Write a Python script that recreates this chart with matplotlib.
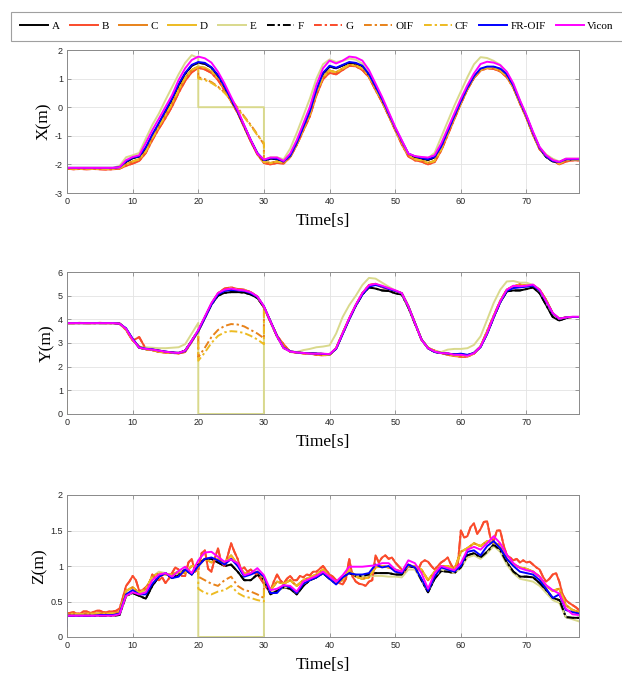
import numpy as np
import matplotlib
matplotlib.use('Agg')
import matplotlib.pyplot as plt

# sample times [s], one value per second
T = list(range(79))
# finer grid for the noisy Z trace, every half second
T_half = [i / 2 for i in range(157)]

# ---------------- X(m) ----------------
vic_x = [-2.12, -2.12, -2.12, -2.12, -2.12, -2.12, -2.12, -2.12, -2.1, -1.85,
         -1.74, -1.68, -1.25, -0.8, -0.4, 0.01, 0.42, 0.95, 1.36, 1.65,
         1.77, 1.71, 1.56, 1.24, 0.83, 0.36, -0.1, -0.63, -1.15, -1.62,
         -1.83, -1.76, -1.76, -1.88, -1.62, -1.15, -0.57, 0.01, 0.78, 1.36,
         1.63, 1.53, 1.63, 1.77, 1.74, 1.63, 1.3, 0.83, 0.36, -0.16,
         -0.69, -1.15, -1.62, -1.71, -1.74, -1.76, -1.68, -1.27, -0.75, -0.22,
         0.3, 0.77, 1.18, 1.51, 1.59, 1.56, 1.47, 1.24, 0.83, 0.25,
         -0.28, -0.86, -1.39, -1.68, -1.85, -1.91, -1.8, -1.8, -1.8]
fro_x = [-2.12, -2.12, -2.12, -2.12, -2.12, -2.12, -2.12, -2.12, -2.1, -1.9,
         -1.76, -1.72, -1.4, -0.95, -0.55, -0.12, 0.3, 0.8, 1.2, 1.48,
         1.58, 1.55, 1.4, 1.12, 0.72, 0.28, -0.15, -0.65, -1.15, -1.6,
         -1.85, -1.78, -1.8, -1.9, -1.7, -1.25, -0.7, -0.15, 0.6, 1.2,
         1.45, 1.38, 1.48, 1.58, 1.55, 1.45, 1.15, 0.72, 0.28, -0.22,
         -0.72, -1.18, -1.62, -1.72, -1.78, -1.82, -1.74, -1.38, -0.85, -0.32,
         0.2, 0.68, 1.08, 1.35, 1.42, 1.42, 1.35, 1.15, 0.75, 0.2,
         -0.32, -0.9, -1.42, -1.72, -1.88, -1.92, -1.82, -1.82, -1.82]
blk_x = [-2.13, -2.13, -2.13, -2.13, -2.13, -2.13, -2.13, -2.13, -2.11, -1.92,
         -1.78, -1.73, -1.45, -1.0, -0.58, -0.15, 0.27, 0.76, 1.17, 1.45,
         1.55, 1.52, 1.38, 1.1, 0.7, 0.26, -0.17, -0.67, -1.17, -1.62,
         -1.87, -1.8, -1.82, -1.92, -1.72, -1.28, -0.73, -0.18, 0.57, 1.17,
         1.42, 1.36, 1.46, 1.55, 1.52, 1.42, 1.12, 0.7, 0.25, -0.25,
         -0.75, -1.2, -1.64, -1.74, -1.8, -1.84, -1.76, -1.4, -0.88, -0.35,
         0.17, 0.65, 1.05, 1.32, 1.4, 1.4, 1.33, 1.13, 0.72, 0.18,
         -0.34, -0.92, -1.44, -1.74, -1.9, -1.94, -1.84, -1.84, -1.84]
pale_x = [-2.12, -2.12, -2.12, -2.12, -2.12, -2.12, -2.12, -2.12, -2.05, -1.75,
          -1.68, -1.6, -1.1, -0.62, -0.22, 0.25, 0.7, 1.15, 1.55, 1.82,
          1.72, 1.6, 1.45, 1.15, 0.75, 0.3, -0.15, -0.65, -1.15, -1.6,
          -1.85, -1.75, -1.75, -1.82, -1.45, -0.9, -0.3, 0.3, 1.0, 1.5,
          1.67, 1.58, 1.62, 1.7, 1.66, 1.52, 1.2, 0.75, 0.3, -0.2,
          -0.75, -1.25, -1.65, -1.72, -1.75, -1.78, -1.6, -1.05, -0.5, 0.05,
          0.55, 1.05, 1.5, 1.75, 1.72, 1.62, 1.48, 1.22, 0.8, 0.22,
          -0.3, -0.9, -1.4, -1.65, -1.8, -1.9, -1.8, -1.8, -1.8]
red_x = [-2.15, -2.17, -2.16, -2.17, -2.16, -2.17, -2.18, -2.17, -2.15, -2.05,
         -1.97, -1.88, -1.6, -1.15, -0.75, -0.38, 0.02, 0.5, 0.92, 1.22,
         1.38, 1.32, 1.2, 0.95, 0.6, 0.2, -0.2, -0.7, -1.2, -1.65,
         -1.95, -2.0, -1.95, -1.97, -1.75, -1.32, -0.82, -0.32, 0.42, 0.98,
         1.2, 1.15, 1.3, 1.45, 1.43, 1.3, 1.05, 0.6, 0.18, -0.3,
         -0.8, -1.3, -1.72, -1.86, -1.9, -2.0, -1.92, -1.52, -0.97, -0.42,
         0.12, 0.62, 1.02, 1.28, 1.36, 1.34, 1.25, 1.05, 0.68, 0.13,
         -0.38, -0.97, -1.47, -1.72, -1.86, -2.0, -1.9, -1.86, -1.86]
org_x = [-2.14, -2.15, -2.15, -2.15, -2.15, -2.15, -2.16, -2.15, -2.13, -2.0,
         -1.9, -1.82, -1.55, -1.08, -0.68, -0.28, 0.12, 0.6, 1.02, 1.3,
         1.42, 1.38, 1.25, 1.0, 0.65, 0.22, -0.18, -0.68, -1.18, -1.63,
         -1.92, -1.95, -1.9, -1.95, -1.72, -1.3, -0.78, -0.25, 0.5, 1.05,
         1.28, 1.22, 1.35, 1.48, 1.46, 1.35, 1.08, 0.64, 0.2, -0.28,
         -0.78, -1.25, -1.68, -1.82, -1.86, -1.95, -1.88, -1.48, -0.92, -0.38,
         0.15, 0.64, 1.05, 1.3, 1.38, 1.37, 1.28, 1.08, 0.7, 0.15,
         -0.36, -0.95, -1.45, -1.7, -1.84, -1.97, -1.86, -1.84, -1.84]
oif_gap_x = [1.05, 0.98, 0.88, 0.72, 0.52, 0.28, -0.02, -0.32, -0.62, -0.95, -1.3]
cf_gap_x = [1.0, 0.95, 0.85, 0.7, 0.5, 0.25, -0.05, -0.35, -0.65, -0.98, -1.25]
fro_start_x = -1.1

# ---------------- Y(m) ----------------
vic_y = [3.84, 3.84, 3.84, 3.84, 3.84, 3.84, 3.84, 3.84, 3.82, 3.6,
         3.14, 2.8, 2.75, 2.72, 2.68, 2.63, 2.6, 2.58, 2.68, 3.1,
         3.56, 4.12, 4.69, 5.11, 5.25, 5.3, 5.25, 5.22, 5.14, 4.97,
         4.55, 3.91, 3.28, 2.78, 2.64, 2.6, 2.58, 2.55, 2.55, 2.55,
         2.53, 2.78, 3.42, 4.05, 4.62, 5.11, 5.44, 5.5, 5.42, 5.32,
         5.23, 5.11, 4.55, 3.84, 3.14, 2.78, 2.64, 2.57, 2.57, 2.5,
         2.5, 2.46, 2.57, 2.85, 3.42, 4.12, 4.76, 5.25, 5.42, 5.4,
         5.42, 5.47, 5.25, 4.76, 4.27, 4.03, 4.08, 4.11, 4.11]
fro_y = [3.84, 3.84, 3.84, 3.84, 3.84, 3.84, 3.84, 3.84, 3.82, 3.62,
         3.18, 2.82, 2.76, 2.73, 2.68, 2.64, 2.6, 2.58, 2.66, 3.08,
         3.5, 4.05, 4.62, 5.05, 5.2, 5.24, 5.22, 5.2, 5.1, 4.95,
         4.55, 3.92, 3.3, 2.8, 2.65, 2.6, 2.58, 2.56, 2.55, 2.54,
         2.52, 2.75, 3.38, 4.0, 4.58, 5.05, 5.38, 5.45, 5.38, 5.28,
         5.2, 5.1, 4.55, 3.85, 3.15, 2.78, 2.62, 2.58, 2.55, 2.52,
         2.55, 2.5, 2.58, 2.82, 3.38, 4.08, 4.72, 5.2, 5.32, 5.35,
         5.38, 5.42, 5.22, 4.75, 4.25, 4.02, 4.08, 4.1, 4.1]
blk_y = [3.84, 3.84, 3.84, 3.84, 3.84, 3.84, 3.84, 3.84, 3.82, 3.6,
         3.15, 2.8, 2.74, 2.72, 2.68, 2.63, 2.6, 2.58, 2.68, 3.1,
         3.52, 4.08, 4.62, 5.0, 5.12, 5.15, 5.15, 5.13, 5.05, 4.9,
         4.52, 3.9, 3.28, 2.8, 2.65, 2.6, 2.58, 2.56, 2.55, 2.54,
         2.52, 2.76, 3.4, 4.02, 4.58, 5.05, 5.35, 5.3, 5.22, 5.2,
         5.1, 5.05, 4.5, 3.82, 3.15, 2.78, 2.62, 2.58, 2.55, 2.52,
         2.52, 2.48, 2.58, 2.85, 3.4, 4.08, 4.72, 5.18, 5.22, 5.22,
         5.28, 5.35, 5.1, 4.6, 4.1, 3.95, 4.05, 4.1, 4.1]
pale_y = [3.84, 3.84, 3.84, 3.84, 3.84, 3.84, 3.84, 3.84, 3.82, 3.6,
          3.15, 2.82, 2.82, 2.8, 2.78, 2.78, 2.8, 2.82, 2.95, 3.4,
          3.85, 4.3, 4.8, 5.15, 5.3, 5.32, 5.28, 5.25, 5.15, 4.98,
          4.5, 3.88, 3.25, 2.78, 2.65, 2.62, 2.7, 2.75, 2.82, 2.85,
          2.9, 3.4, 4.1, 4.6, 5.0, 5.45, 5.75, 5.72, 5.55, 5.38,
          5.22, 5.1, 4.55, 3.85, 3.15, 2.8, 2.65, 2.62, 2.72, 2.75,
          2.75, 2.78, 2.92, 3.28, 3.98, 4.69, 5.25, 5.6, 5.62, 5.55,
          5.55, 5.45, 5.2, 4.7, 4.22, 4.02, 4.08, 4.1, 4.1]
red_y = [3.84, 3.84, 3.85, 3.84, 3.84, 3.85, 3.84, 3.84, 3.82, 3.55,
         3.1, 3.25, 2.75, 2.7, 2.62, 2.6, 2.58, 2.56, 2.62, 3.05,
         3.5, 4.05, 4.65, 5.1, 5.3, 5.35, 5.28, 5.25, 5.15, 4.95,
         4.5, 3.9, 3.3, 2.95, 2.62, 2.6, 2.56, 2.55, 2.5, 2.48,
         2.5, 2.78, 3.4, 4.02, 4.6, 5.1, 5.45, 5.5, 5.35, 5.28,
         5.2, 5.1, 4.55, 3.85, 3.15, 2.78, 2.68, 2.58, 2.5, 2.45,
         2.42, 2.42, 2.55, 2.85, 3.5, 4.15, 4.78, 5.25, 5.38, 5.48,
         5.42, 5.42, 5.25, 4.82, 4.25, 4.02, 4.08, 4.1, 4.1]
org_y = [3.84, 3.84, 3.84, 3.84, 3.84, 3.84, 3.84, 3.84, 3.82, 3.58,
         3.12, 2.85, 2.74, 2.7, 2.64, 2.6, 2.58, 2.57, 2.65, 3.08,
         3.5, 4.08, 4.65, 5.08, 5.28, 5.32, 5.26, 5.24, 5.14, 4.96,
         4.52, 3.9, 3.3, 2.85, 2.64, 2.6, 2.57, 2.55, 2.52, 2.5,
         2.5, 2.78, 3.42, 4.04, 4.6, 5.1, 5.42, 5.48, 5.38, 5.3,
         5.2, 5.1, 4.55, 3.85, 3.15, 2.8, 2.66, 2.58, 2.52, 2.47,
         2.45, 2.45, 2.56, 2.85, 3.46, 4.12, 4.76, 5.25, 5.4, 5.45,
         5.42, 5.45, 5.25, 4.8, 4.25, 4.02, 4.08, 4.1, 4.1]
oif_gap_y = [2.4, 2.8, 3.25, 3.55, 3.72, 3.8, 3.78, 3.7, 3.55, 3.4, 3.2]
cf_gap_y = [2.25, 2.6, 3.0, 3.3, 3.45, 3.5, 3.48, 3.42, 3.3, 3.15, 2.95]
fro_start_y = 1.95

# ---------------- Z(m) ----------------
vic_z = [0.3, 0.3, 0.3, 0.3, 0.3, 0.3, 0.3, 0.3, 0.32, 0.58,
         0.63, 0.6, 0.63, 0.8, 0.88, 0.9, 0.85, 0.93, 0.99, 0.9,
         1.08, 1.19, 1.2, 1.13, 1.06, 1.09, 1.04, 0.87, 0.9, 0.97,
         0.87, 0.66, 0.68, 0.73, 0.72, 0.64, 0.78, 0.82, 0.86, 0.92,
         0.85, 0.78, 0.87, 0.99, 0.99, 0.99, 1.0, 1.01, 1.04, 1.04,
         0.95, 0.92, 1.08, 1.04, 0.9, 0.68, 0.9, 1.0, 0.97, 0.94,
         1.04, 1.23, 1.27, 1.23, 1.32, 1.42, 1.32, 1.16, 1.04, 0.97,
         0.94, 0.92, 0.85, 0.73, 0.66, 0.61, 0.4, 0.32, 0.31]
fro_z = [0.3, 0.3, 0.3, 0.3, 0.3, 0.31, 0.31, 0.31, 0.33, 0.6,
         0.66, 0.6, 0.6, 0.75, 0.85, 0.9, 0.83, 0.85, 0.95, 0.88,
         1.0, 1.1, 1.12, 1.08, 1.02, 1.1, 1.0, 0.85, 0.88, 0.92,
         0.85, 0.62, 0.62, 0.73, 0.7, 0.62, 0.75, 0.8, 0.84, 0.9,
         0.82, 0.74, 0.84, 0.9, 0.88, 0.88, 0.9, 1.02, 0.98, 1.0,
         0.92, 0.9, 1.02, 0.98, 0.82, 0.65, 0.85, 0.98, 0.95, 0.92,
         1.0, 1.2, 1.22, 1.15, 1.28, 1.35, 1.25, 1.1, 1.0, 0.92,
         0.9, 0.88, 0.8, 0.68, 0.55, 0.6, 0.38, 0.35, 0.33]
blk_z = [0.3, 0.3, 0.3, 0.3, 0.3, 0.3, 0.3, 0.3, 0.31, 0.58,
         0.62, 0.58, 0.54, 0.72, 0.85, 0.9, 0.83, 0.88, 0.95, 0.88,
         1.02, 1.1, 1.1, 1.05, 1.0, 1.02, 0.92, 0.8, 0.8, 0.88,
         0.8, 0.6, 0.65, 0.7, 0.68, 0.6, 0.72, 0.8, 0.84, 0.9,
         0.82, 0.75, 0.84, 0.9, 0.86, 0.86, 0.88, 0.9, 0.9, 0.9,
         0.88, 0.88, 1.0, 0.98, 0.8, 0.63, 0.82, 0.93, 0.92, 0.9,
         0.98, 1.15, 1.18, 1.12, 1.2, 1.3, 1.22, 1.05, 0.92, 0.85,
         0.85, 0.84, 0.76, 0.66, 0.55, 0.52, 0.28, 0.27, 0.27]
pale_z = [0.3, 0.3, 0.3, 0.3, 0.3, 0.3, 0.3, 0.3, 0.32, 0.57,
          0.63, 0.62, 0.65, 0.85, 0.92, 0.9, 0.85, 0.9, 0.95, 0.9,
          1.0, 1.08, 1.1, 1.05, 1.0, 1.02, 0.95, 0.82, 0.85, 0.9,
          0.82, 0.63, 0.65, 0.7, 0.7, 0.62, 0.75, 0.8, 0.85, 0.9,
          0.82, 0.75, 0.84, 0.9, 0.88, 0.86, 0.86, 0.86, 0.86, 0.85,
          0.85, 0.84, 0.95, 0.95, 0.8, 0.65, 0.85, 0.95, 0.92, 0.9,
          0.97, 1.12, 1.15, 1.1, 1.18, 1.28, 1.2, 1.02, 0.9, 0.82,
          0.8, 0.78, 0.72, 0.62, 0.52, 0.48, 0.28, 0.25, 0.22]
# noisy red trace, half-second samples
red_z = [0.33, 0.34, 0.35, 0.33, 0.33, 0.36, 0.36, 0.34, 0.35, 0.37,
         0.37, 0.35, 0.35, 0.36, 0.36, 0.37, 0.4, 0.55, 0.72, 0.78,
         0.86, 0.8, 0.65, 0.66, 0.7, 0.75, 0.88, 0.82, 0.8, 0.84,
         0.76, 0.82, 0.9, 0.98, 0.95, 0.86, 0.86, 1.05, 1.1, 0.92,
         0.95, 1.18, 1.22, 0.96, 0.92, 1.1, 1.25, 1.05, 1.0, 1.15,
         1.32, 1.2, 1.1, 0.95, 0.98, 0.92, 0.95, 0.9, 0.88, 0.82,
         0.75, 0.68, 0.65, 0.78, 0.88, 0.8, 0.75, 0.82, 0.86, 0.8,
         0.8, 0.86, 0.84, 0.88, 0.87, 0.92, 0.92, 0.96, 1.0, 0.94,
         0.88, 0.85, 0.8, 0.76, 0.74, 0.82, 1.1, 0.85, 0.78, 0.75,
         0.74, 0.72, 0.78, 0.8, 1.15, 1.05, 1.12, 1.15, 1.1, 1.12,
         1.05, 1.0, 0.95, 0.92, 1.02, 1.0, 0.98, 0.95, 1.05, 1.08,
         1.06, 1.0, 0.95, 1.0, 1.05, 1.08, 1.12, 1.02, 0.95, 0.98,
         1.5, 1.4, 1.42, 1.55, 1.6, 1.45, 1.52, 1.62, 1.63, 1.4,
         1.35, 1.5, 1.5, 1.3, 1.15, 1.12, 1.08, 1.1, 1.05, 1.08,
         1.05, 1.06, 1.02, 0.98, 0.95, 0.85, 0.78, 0.82, 0.88, 0.9,
         0.78, 0.6, 0.52, 0.48, 0.45, 0.42, 0.38]
org_z = [0.32, 0.33, 0.32, 0.33, 0.33, 0.33, 0.33, 0.33, 0.35, 0.65,
         0.7, 0.62, 0.68, 0.85, 0.9, 0.88, 0.88, 0.92, 0.9, 1.0,
         1.0, 1.1, 1.05, 1.1, 1.05, 1.15, 1.02, 0.9, 0.9, 0.92,
         0.82, 0.66, 0.78, 0.75, 0.8, 0.72, 0.8, 0.84, 0.88, 0.95,
         0.85, 0.78, 0.8, 0.95, 0.85, 0.82, 0.84, 0.98, 1.0, 0.98,
         0.95, 0.92, 1.0, 1.0, 0.95, 0.8, 0.92, 1.0, 1.0, 0.95,
         1.2, 1.25, 1.32, 1.28, 1.35, 1.32, 1.3, 1.1, 1.02, 0.98,
         0.96, 0.92, 0.85, 0.72, 0.65, 0.68, 0.45, 0.38, 0.35]
oif_gap_z = [0.85, 0.8, 0.75, 0.72, 0.8, 0.85, 0.72, 0.66, 0.64, 0.6, 0.55]
cf_gap_z = [0.68, 0.62, 0.6, 0.64, 0.66, 0.72, 0.62, 0.57, 0.55, 0.52, 0.5]
fro_start_z = 0.15

# E drops to zero while the gap lasts, CF starts at zero
e_gap = [0, 0, 0, 0, 0, 0, 0, 0, 0, 0, 0]
cf_start = 0

names = ['A', 'B', 'C', 'D', 'E', 'F', 'G', 'OIF', 'CF', 'FR-OIF', 'Vicon']
colors = {'A': '#000000', 'B': '#fa4b2b', 'C': '#e8821a', 'D': '#edbb22',
          'E': '#d9d98c', 'F': '#000000', 'G': '#fa4b2b', 'OIF': '#e8821a',
          'CF': '#edbb22', 'FR-OIF': '#0000ff', 'Vicon': '#ff00ff'}
dashdot = (0, (4, 1.5, 1.2, 1.5))
styles = {'F': dashdot, 'G': dashdot, 'OIF': dashdot, 'CF': dashdot}

SERIF = 'Liberation Serif'
SANS = 'Liberation Sans'


def build(main, gap=None, start=None, tt=None):
    t = list(T if tt is None else tt)
    v = list(main)
    if len(v) != len(t):
        raise ValueError('length %d' % len(v))
    if gap is not None:
        t = T[:21] + T[20:31] + T[30:]
        v = main[:21] + gap + main[30:]
    if start is not None:
        t = [0] + t
        v = [start] + v
    return t, v


panels = [
    ('X(m)', (-3, 2), [-3, -2, -1, 0, 1, 2], ['-3', '-2', '-1', '0', '1', '2'],
     dict(vic=vic_x, fro=fro_x, blk=blk_x, pale=pale_x, red=red_x, org=org_x,
          oif=oif_gap_x, cf=cf_gap_x, fs=fro_start_x, red_t=T)),
    ('Y(m)', (0, 6), [0, 1, 2, 3, 4, 5, 6], ['0', '1', '2', '3', '4', '5', '6'],
     dict(vic=vic_y, fro=fro_y, blk=blk_y, pale=pale_y, red=red_y, org=org_y,
          oif=oif_gap_y, cf=cf_gap_y, fs=fro_start_y, red_t=T)),
    ('Z(m)', (0, 2), [0, 0.5, 1, 1.5, 2], ['0', '0.5', '1', '1.5', '2'],
     dict(vic=vic_z, fro=fro_z, blk=blk_z, pale=pale_z, red=red_z, org=org_z,
          oif=oif_gap_z, cf=cf_gap_z, fs=fro_start_z, red_t=T_half)),
]

W, H = 622, 675
fig = plt.figure(figsize=(W / 100, H / 100), dpi=100)
boxes = [(50, 193), (272, 414), (495, 637)]

handles = []
for k, (ylab, ylim, yt, ytl, d) in enumerate(panels):
    top, bot = boxes[k]
    ax = fig.add_axes([67 / W, 1 - bot / H, (579 - 67) / W, (bot - top) / H])
    lines = {
        'A': build(d['blk']),
        'B': build(d['red'], tt=d['red_t']),
        'C': build(d['org']),
        'D': build(d['org']),
        'E': build(d['pale'], gap=e_gap),
        'F': build(d['blk']),
        'G': build(d['red'], tt=d['red_t']),
        'OIF': build(d['org'], gap=d['oif']),
        'CF': build(d['org'], gap=d['cf'], start=cf_start),
        'FR-OIF': build(d['fro'], start=d['fs']),
        'Vicon': build(d['vic']),
    }
    for n in names:
        t, v = lines[n]
        h, = ax.plot(t, v, color=colors[n], lw=1.4,
                     linestyle=styles.get(n, '-'), label=n)
        if k == 0:
            handles.append(h)

    ax.set_xlim(0, 78)
    ax.set_ylim(*ylim)
    ax.set_xticks([0, 10, 20, 30, 40, 50, 60, 70])
    ax.set_yticks(yt)
    ax.set_yticklabels(ytl)
    ax.grid(True, color='#e3e3e3', lw=0.6)
    ax.set_axisbelow(True)
    for s in ax.spines.values():
        s.set_color('#8a8a8a')
        s.set_linewidth(0.7)
    ax.tick_params(direction='in', length=3, width=0.6, top=True, right=True,
                   color='#8a8a8a', labelcolor='#262626', labelsize=6.5,
                   pad=3)
    for lab in ax.get_xticklabels() + ax.get_yticklabels():
        lab.set_family(SANS)
    ax.set_xlabel('Time[s]', family=SERIF, fontsize=12.5, labelpad=5)
    ax.set_ylabel(ylab, family=SERIF, fontsize=12.5, labelpad=2)

leg = fig.legend(handles, names, ncol=11, loc='upper left',
                 bbox_to_anchor=(11 / W, 1 - 12 / H), borderaxespad=0,
                 prop={'family': SERIF, 'size': 8}, frameon=True,
                 fancybox=False, edgecolor='#a0a0a0', framealpha=1,
                 handlelength=2.5, handletextpad=0.3, columnspacing=0.95,
                 borderpad=0.85)
leg.get_frame().set_linewidth(0.8)

fig.savefig('out.png', dpi=100)
